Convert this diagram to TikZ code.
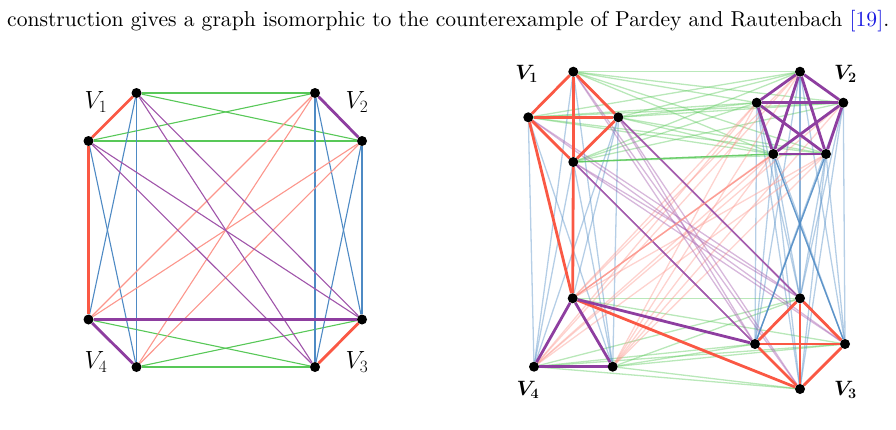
\documentclass[tikz,border=0pt]{standalone}
\usepackage{amsmath,bm}
\pgfdeclarelayer{bg}
\pgfsetlayers{bg,main}
\definecolor{cgreen}{RGB}{88,200,88}
\definecolor{cblue}{RGB}{78,138,196}
\definecolor{cred}{RGB}{252,150,140}
\definecolor{cpurp}{RGB}{160,85,170}
\definecolor{tred}{RGB}{250,88,68}
\definecolor{tpurp}{RGB}{142,62,160}
\definecolor{citeblue}{RGB}{25,25,225}
\tikzset{
  dot/.style={circle,fill=black,inner sep=0pt,minimum size=10pt},
  lbl/.style={inner sep=0pt,font=\fontsize{23.5}{26}\selectfont},
  blbl/.style={inner sep=0pt,font=\fontsize{20.5}{24}\selectfont},
  thin/.style={line width=1.1pt},
  lthin/.style={line width=1.3pt,opacity=0.42},
  dthin/.style={line width=1.3pt,opacity=0.8},
  thick/.style={line width=2.8pt},
}
\begin{document}
\begin{tikzpicture}[x=1pt,y={(0pt,-1pt)}]
\useasboundingbox (0,0) rectangle (896,429);
\node[anchor=base west,inner sep=0pt] (cap) at (7,26) {\resizebox{882pt}{!}{construction gives a graph isomorphic to the counterexample of Pardey and Rautenbach \textcolor{citeblue}{[19]}.}};

% ---------- left graph ----------
\node[dot] (a1) at (136.5,93) {};
\node[dot] (a2) at (88.5,141) {};
\node[dot] (b1) at (315,93) {};
\node[dot] (b2) at (362,141) {};
\node[dot] (c1) at (362,319.5) {};
\node[dot] (c2) at (315,367) {};
\node[dot] (d1) at (88.5,319.5) {};
\node[dot] (d2) at (136.5,367) {};
\node[lbl] (LV1) at (96,102) {$V_1$};
\node[lbl] (LV2) at (357,102) {$V_2$};
\node[lbl] (LV4) at (96,362) {$V_4$};
\node[lbl] (LV3) at (357,362) {$V_3$};
\begin{pgfonlayer}{bg}
\foreach \u in {a1,a2}{\foreach \v in {b1,b2}{\draw[thin,cgreen] (\u) -- (\v);}}
\foreach \u/\v in {d1/c2,d2/c1,d2/c2}{\draw[thin,cgreen] (\u) -- (\v);}
\foreach \u/\v in {a1/d1,a1/d2,a2/d2}{\draw[thin,cblue] (\u) -- (\v);}
\foreach \u in {b1,b2}{\foreach \v in {c1,c2}{\draw[thin,cblue] (\u) -- (\v);}}
\foreach \u in {b1,b2}{\foreach \v in {d1,d2}{\draw[thin,cred] (\u) -- (\v);}}
\foreach \u in {a1,a2}{\foreach \v in {c1,c2}{\draw[thin,cpurp] (\u) -- (\v);}}
\draw[thick,tred] (a1) -- (a2);
\draw[thick,tred] (a2) -- (d1);
\draw[thick,tred] (c1) -- (c2);
\draw[thick,tpurp] (b1) -- (b2);
\draw[thick,tpurp] (d1) -- (d2);
\draw[thick,tpurp] (d1) -- (c1);
\end{pgfonlayer}

% ---------- right graph ----------
\node[dot] (p1) at (573.3,71.7) {};
\node[dot] (p2) at (528.3,117.3) {};
\node[dot] (p3) at (618.3,117.3) {};
\node[dot] (p4) at (573.3,162) {};
\node[dot] (q1) at (800,71.7) {};
\node[dot] (q2) at (756.7,102.7) {};
\node[dot] (q3) at (843.3,102.7) {};
\node[dot] (q4) at (773.3,154) {};
\node[dot] (q5) at (826,154) {};
\node[dot] (r1) at (800,298.3) {};
\node[dot] (r2) at (755,344) {};
\node[dot] (r3) at (845,344) {};
\node[dot] (r4) at (800,389) {};
\node[dot] (s1) at (572.7,298.3) {};
\node[dot] (s2) at (534,366.7) {};
\node[dot] (s3) at (612.7,366.7) {};
\node[blbl] (RV1) at (526.7,74) {$\boldsymbol{V_1}$};
\node[blbl] (RV2) at (845.5,74) {$\boldsymbol{V_2}$};
\node[blbl] (RV4) at (528,390) {$\boldsymbol{V_4}$};
\node[blbl] (RV3) at (845.5,390) {$\boldsymbol{V_3}$};
\begin{pgfonlayer}{bg}
\foreach \u in {p1,p2,p3,p4}{\foreach \v in {q1,q2,q3,q4,q5}{\draw[lthin,cgreen] (\u) -- (\v);}}
\foreach \u/\v in {s1/r1,s1/r3}{\draw[lthin,cgreen] (\u) -- (\v);}
\foreach \u in {s2,s3}{\foreach \v in {r1,r2,r3,r4}{\draw[lthin,cgreen] (\u) -- (\v);}}
\foreach \u/\v in {p1/s1,p1/s2,p1/s3,p2/s2,p2/s3,p3/s1,p3/s2,p3/s3,p4/s2,p4/s3}{\draw[lthin,cblue] (\u) -- (\v);}
\foreach \u in {q1,q2,q3,q4,q5}{\foreach \v in {r1,r2,r3,r4}{\draw[lthin,cblue] (\u) -- (\v);}}
\foreach \u in {q1,q2,q3,q4,q5}{\foreach \v in {s1,s2,s3}{\draw[lthin,cred] (\u) -- (\v);}}
\foreach \u in {p1,p2,p3,p4}{\foreach \v in {r1,r2,r3,r4}{\draw[lthin,cpurp] (\u) -- (\v);}}
% darker edges
\draw[dthin,cpurp] (p3) -- (r1);
\draw[dthin,cpurp] (p4) -- (r2);
\draw[dthin,cred] (s1) -- (q4);
\draw[dthin,cblue] (q4) -- (r3);
\draw[dthin,cblue] (q5) -- (r2);
\draw[dthin,cgreen] (p4) -- (q4);
% thick edges
\foreach \u/\v in {p1/p2,p1/p3,p2/p4,p3/p4,p1/p4,p2/p3}{\draw[thick,tred] (\u) -- (\v);}
\foreach \u/\v in {r1/r2,r1/r3,r2/r4,r3/r4,r1/r4,r2/r3}{\draw[thick,tred] (\u) -- (\v);}
\foreach \u/\v in {q1/q2,q1/q3,q1/q4,q1/q5,q2/q3,q2/q4,q2/q5,q3/q4,q3/q5,q4/q5}{\draw[thick,tpurp] (\u) -- (\v);}
\foreach \u/\v in {s1/s2,s1/s3,s2/s3}{\draw[thick,tpurp] (\u) -- (\v);}
\draw[thick,tred] (p2) -- (s1);
\draw[thick,tred] (p4) -- (s1);
\draw[thick,tred] (s1) -- (r4);
\draw[thick,tpurp] (s1) -- (r2);
\end{pgfonlayer}
\end{tikzpicture}
\end{document}
